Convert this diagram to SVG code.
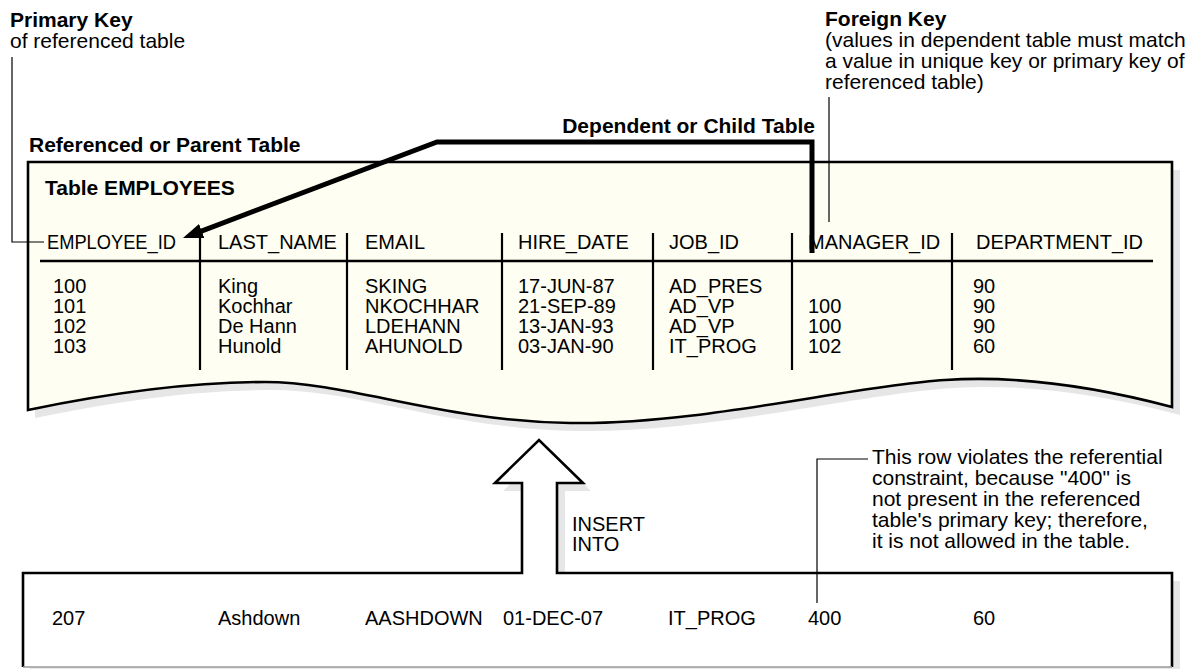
<svg xmlns="http://www.w3.org/2000/svg" width="1199" height="669" viewBox="0 0 1199 669">
<style>
text{font-family:"Liberation Sans",Arial,Helvetica,sans-serif;fill:#000}
.b{font-weight:bold;font-size:21px}
.a{font-size:21px}
.t{font-size:20px}
.thin{fill:none;stroke:#000;stroke-width:1.2}
.div{stroke:#000;stroke-width:2.2}
.shadow{fill:#e6e6e6;stroke:none}
</style>
<defs>
<marker id="ah" viewBox="0 0 20 15" refX="8" refY="7.5" markerWidth="4" markerHeight="3" markerUnits="strokeWidth" orient="auto">
<path d="M0,0 L20,7.5 L0,15 Z" fill="#000"/>
</marker>
</defs>
<rect width="1199" height="669" fill="#fff"/>

<g id="labels">
<text class="b" x="10" y="27">Primary Key</text>
<text class="a" x="10" y="48">of referenced table</text>
<text class="b" x="29" y="152">Referenced or Parent Table</text>
<text class="b" x="815" y="133" text-anchor="end">Dependent or Child Table</text>
<text class="b" x="825" y="26">Foreign Key</text>
<text class="a" x="825" y="47">(values in dependent table must match</text>
<text class="a" x="825" y="68">a value in unique key or primary key of</text>
<text class="a" x="825" y="89">referenced table)</text>
</g>

<g id="employees-table">
<path class="shadow" d="M35,170 H1180 V415 C1108,396 1028,383 953,388 C858,394 708,433 578,431 C448,429 358,390 273,390 C188,390 108,403 35,418 Z"/>
<path d="M28,162 H1172 V407 C1100,388 1020,375 945,380 C850,386 700,425 570,423 C440,421 350,382 265,382 C180,382 100,395 28,410 Z" fill="#fefef2" stroke="#000" stroke-width="2.6"/>
<text class="b" x="45" y="195">Table EMPLOYEES</text>
<text class="t" x="47" y="249" textLength="129" lengthAdjust="spacingAndGlyphs">EMPLOYEE_ID</text>
<text class="t" x="218" y="249">LAST_NAME</text>
<text class="t" x="365" y="249">EMAIL</text>
<text class="t" x="518" y="249">HIRE_DATE</text>
<text class="t" x="669" y="249">JOB_ID</text>
<text class="t" x="808" y="249">MANAGER_ID</text>
<text class="t" x="976" y="249">DEPARTMENT_ID</text>
<line x1="40" y1="261" x2="1153" y2="261" stroke="#000" stroke-width="2.6"/>
<line class="div" x1="200" y1="233" x2="200" y2="370"/>
<line class="div" x1="347" y1="233" x2="347" y2="370"/>
<line class="div" x1="502" y1="233" x2="502" y2="370"/>
<line class="div" x1="653" y1="233" x2="653" y2="370"/>
<line class="div" x1="792" y1="233" x2="792" y2="370"/>
<line class="div" x1="952" y1="233" x2="952" y2="370"/>
<text class="t" x="53" y="293">100</text>
<text class="t" x="53" y="313">101</text>
<text class="t" x="53" y="333">102</text>
<text class="t" x="53" y="353">103</text>
<text class="t" x="218" y="293">King</text>
<text class="t" x="218" y="313">Kochhar</text>
<text class="t" x="218" y="333">De Hann</text>
<text class="t" x="218" y="353">Hunold</text>
<text class="t" x="365" y="293">SKING</text>
<text class="t" x="365" y="313">NKOCHHAR</text>
<text class="t" x="365" y="333">LDEHANN</text>
<text class="t" x="365" y="353">AHUNOLD</text>
<text class="t" x="518" y="293">17-JUN-87</text>
<text class="t" x="518" y="313">21-SEP-89</text>
<text class="t" x="518" y="333">13-JAN-93</text>
<text class="t" x="518" y="353">03-JAN-90</text>
<text class="t" x="669" y="293">AD_PRES</text>
<text class="t" x="669" y="313">AD_VP</text>
<text class="t" x="669" y="333">AD_VP</text>
<text class="t" x="669" y="353">IT_PROG</text>
<text class="t" x="808" y="313">100</text>
<text class="t" x="808" y="333">100</text>
<text class="t" x="808" y="353">102</text>
<text class="t" x="973" y="293">90</text>
<text class="t" x="973" y="313">90</text>
<text class="t" x="973" y="333">90</text>
<text class="t" x="973" y="353">60</text>
</g>

<g id="insert-row">
<path class="shadow" d="M30,581 H530 V491 H503 L547,448 L591,491 H565 V581 H1180 V669 H30 Z"/>
<path d="M23,667 V573 H522 V483 H495 L539,440 L583,483 H557 V573 H1172 V667" fill="#fff" stroke="#000" stroke-width="2.6" stroke-linejoin="miter"/>
<line x1="23" y1="667" x2="1172" y2="667" stroke="#999" stroke-width="1.5"/>
<text class="t" x="572" y="531">INSERT</text>
<text class="t" x="572" y="551">INTO</text>
<text class="t" x="52" y="625">207</text>
<text class="t" x="218" y="625">Ashdown</text>
<text class="t" x="365" y="625">AASHDOWN</text>
<text class="t" x="503" y="625">01-DEC-07</text>
<text class="t" x="668" y="625">IT_PROG</text>
<text class="t" x="808" y="625">400</text>
<text class="t" x="973" y="625">60</text>
</g>

<g id="violation-note">
<text class="a" x="872" y="464">This row violates the referential</text>
<text class="a" x="872" y="485">constraint, because "400" is</text>
<text class="a" x="872" y="506">not present in the referenced</text>
<text class="a" x="872" y="527">table's primary key; therefore,</text>
<text class="a" x="872" y="548">it is not allowed in the table.</text>
</g>

<g id="connectors">
<path class="thin" d="M12,57 V242 H44"/>
<path class="thin" d="M829,97 V222"/>
<path class="thin" d="M817,603 V459 H868"/>
<path d="M812,253 V142 H437 L194.2,233.8" fill="none" stroke="#000" stroke-width="5" stroke-linejoin="miter" marker-end="url(#ah)"/>
</g>
</svg>
